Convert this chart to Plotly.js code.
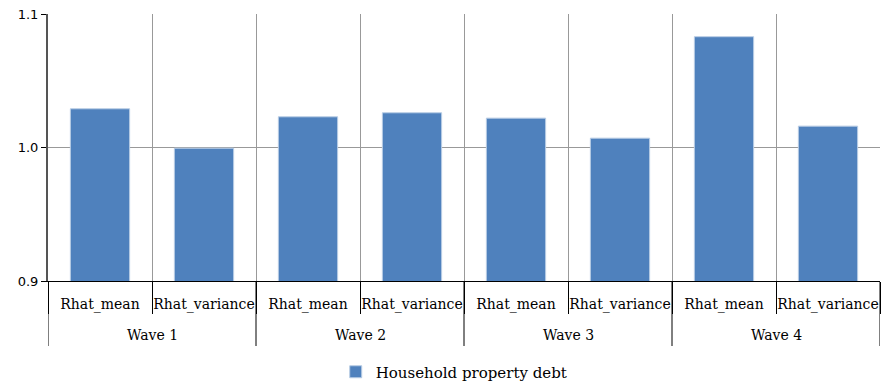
<!DOCTYPE html>
<html>
<head>
<meta charset="utf-8">
<script src="https://cdn.plot.ly/plotly-3.0.1.min.js"></script>
<style>html,body{margin:0;padding:0;background:#fff}#chart{width:882px;height:383px}</style>
</head>
<body>
<div id="chart"></div>
<script>
const waves = ["Wave 1","Wave 1","Wave 2","Wave 2","Wave 3","Wave 3","Wave 4","Wave 4"];
const stats = ["Rhat_mean","Rhat_variance","Rhat_mean","Rhat_variance","Rhat_mean","Rhat_variance","Rhat_mean","Rhat_variance"];
const debtValues = [1.029, 0.9995, 1.023, 1.026, 1.022, 1.007, 1.083, 1.016];
const seriesName = "Household property debt";
const yTicks = [0.9, 1.0, 1.1];
const yTickText = ["0.9", "1.0", "1.1"];

const serif = "DejaVu Serif";
const positions = stats.map((_, i) => i);
const boundaries = positions.map(p => p - 0.5).concat([positions.length - 0.5]);

const groups = [];
waves.forEach((w, i) => {
  const last = groups[groups.length - 1];
  if (last && last.name === w) last.end = i; else groups.push({name: w, start: i, end: i});
});

const plotTop = 14, plotBottom = 281, H = 383;
const plotH = plotBottom - plotTop;
const px2paper = d => -d / plotH;

const shapes = [];
groups.forEach((g, k) => {
  if (k === 0) shapes.push({type: "line", xref: "x", yref: "paper", x0: g.start - 0.5, x1: g.start - 0.5,
    y0: 0, y1: px2paper(65), line: {color: "#000", width: 1}});
  shapes.push({type: "line", xref: "x", yref: "paper", x0: g.end + 0.5, x1: g.end + 0.5,
    y0: 0, y1: px2paper(65), line: {color: "#000", width: 1}});
});
const annotations = groups.map(g => ({
  xref: "x", yref: "paper", x: (g.start + g.end) / 2, y: px2paper(54),
  text: g.name, showarrow: false, yanchor: "middle", xanchor: "center",
  font: {family: serif, size: 14, color: "#000"}
}));

const trace = {
  type: "bar",
  x: positions,
  y: debtValues,
  name: seriesName,
  width: 0.57,
  marker: {color: "#4F81BD", line: {color: "#B9CDE5", width: 1}},
  showlegend: true
};
const layout = {
  width: 882, height: 383,
  margin: {l: 48, r: 2, t: plotTop, b: H - plotBottom},
  paper_bgcolor: "#fff", plot_bgcolor: "#fff",
  showlegend: true,
  legend: {orientation: "h", xref: "container", yref: "container", x: 0.515, xanchor: "center",
           y: 1 - 372 / H, yanchor: "middle",
           font: {family: serif, size: 15, color: "#000"}},
  shapes: shapes,
  annotations: annotations,
  xaxis: {
    range: [-0.5, positions.length - 0.5],
    automargin: false,
    tickmode: "array", tickvals: positions, ticktext: stats,
    ticks: "", showgrid: false,
    ticklabelstandoff: 10,
    minor: {tickmode: "array", tickvals: boundaries, showgrid: true, gridcolor: "#999", gridwidth: 1,
            ticks: "outside", ticklen: 32, tickcolor: "#000", tickwidth: 1},
    showline: true, linecolor: "#000", linewidth: 1,
    tickfont: {family: serif, size: 14, color: "#000"},
    zeroline: false
  },
  yaxis: {
    range: [0.9, 1.1],
    automargin: false,
    tickvals: yTicks, ticktext: yTickText,
    showgrid: true, gridcolor: "#999", gridwidth: 1,
    showline: true, linecolor: "#555", linewidth: 2,
    ticks: "outside", ticklen: 5, tickcolor: "#000",
    tickfont: {family: "DejaVu Sans", size: 13, color: "#000"},
    zeroline: false
  }
};
Plotly.newPlot("chart", [trace], layout, {displayModeBar: false, staticPlot: true});
</script>
</body>
</html>
